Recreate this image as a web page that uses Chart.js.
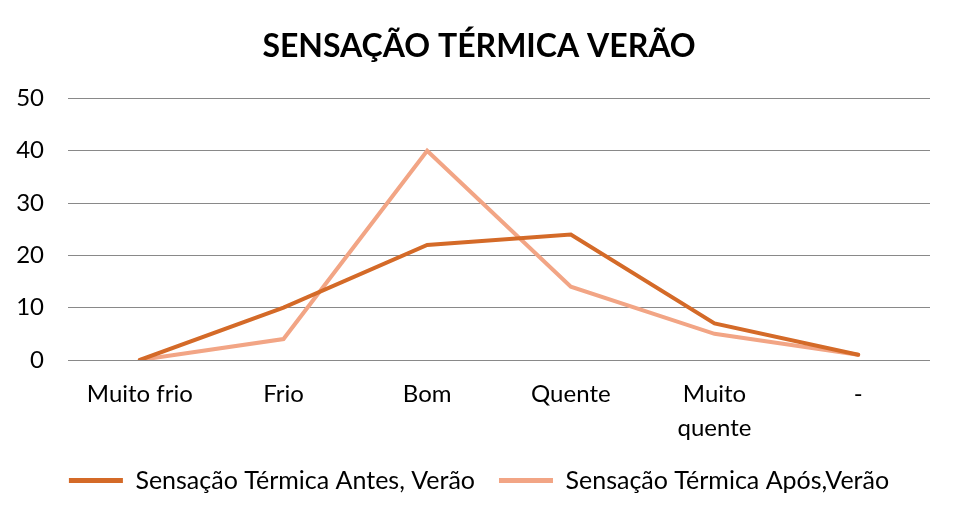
<!DOCTYPE html>
<html>
<head>
<meta charset="utf-8">
<script src="https://cdn.jsdelivr.net/npm/chart.js@4/dist/chart.umd.min.js"></script>
<style>
html,body{margin:0;padding:0;background:#fff;}
#wrap{width:958px;height:521px;position:relative;}
</style>
</head>
<body>
<div id="wrap"><canvas id="c" width="958" height="521"></canvas></div>
<script>
const categories = ["Muito frio", "Frio", "Bom", "Quente", ["Muito", "quente"], "-"];
const antesValues = [0, 10, 22, 24, 7, 1];
const aposValues = [0, 4, 40, 14, 5, 1];
const seriesNames = ["Sensação Térmica Antes, Verão", "Sensação Térmica Após,Verão"];
const titleText = "SENSAÇÃO TÉRMICA VERÃO";
const yTicks = [0, 10, 20, 30, 40, 50];

const FONT = "Lato, 'Liberation Sans', sans-serif";
const darkC = "#D46A28";
const lightC = "#F2A585";

new Chart(document.getElementById('c'), {
  type: 'line',
  data: {
    labels: categories,
    datasets: [
      { label: seriesNames[0], data: antesValues, borderColor: darkC, backgroundColor: darkC, borderWidth: 4, pointRadius: 0, tension: 0, borderCapStyle: 'round', borderJoinStyle: 'miter' },
      { label: seriesNames[1], data: aposValues, borderColor: lightC, backgroundColor: lightC, borderWidth: 4, pointRadius: 0, tension: 0, borderCapStyle: 'round', borderJoinStyle: 'miter' }
    ]
  },
  options: {
    responsive: false,
    animation: false,
    layout: { padding: { left: 0, right: 0, top: 0, bottom: 18 } },
    plugins: {
      title: {
        display: true,
        text: titleText,
        color: '#000',
        font: { family: FONT, size: 32, weight: 'bold', lineHeight: 1.2 },
        padding: { top: 27, bottom: 33 }
      },
      legend: {
        position: 'bottom',
        labels: {
          color: '#000',
          font: { family: FONT, size: 25 },
          boxWidth: 54,
          boxHeight: 5,
          padding: 24,
          generateLabels: chart => Chart.defaults.plugins.legend.labels.generateLabels(chart).map(l => Object.assign(l, { lineWidth: 0 }))
        }
      },
      tooltip: { enabled: false }
    },
    scales: {
      x: {
        offset: true,
        grid: { display: false, drawTicks: false },
        border: { display: false },
        ticks: { color: '#000', font: { family: FONT, size: 24, lineHeight: 1.42 }, padding: 17, maxRotation: 0, autoSkip: false },
        afterFit: s => { s.height = 84; }
      },
      y: {
        min: 0, max: 50,
        afterBuildTicks: s => { s.ticks = yTicks.map(v => ({ value: v })); },
        grid: { color: '#898989', lineWidth: 1, drawTicks: false },
        border: { display: false },
        ticks: { color: '#000', font: { family: FONT, size: 24 }, padding: 24 },
        afterFit: s => { s.width = 68; }
      },
      yRightSpace: {
        position: 'right',
        min: 0, max: 50,
        grid: { display: false, drawTicks: false },
        border: { display: false },
        ticks: { display: false },
        afterFit: s => { s.width = 28; }
      }
    }
  }
});
</script>
</body>
</html>
